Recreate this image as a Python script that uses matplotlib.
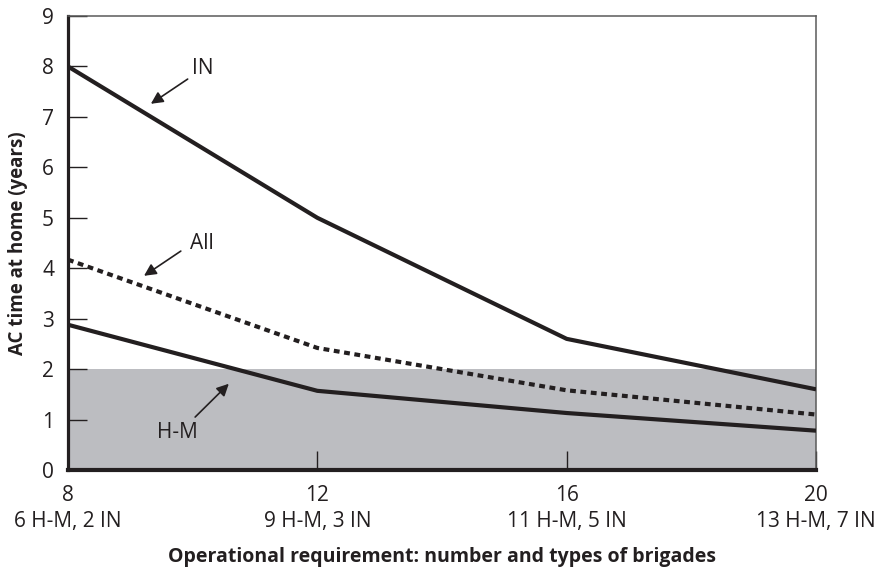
import matplotlib.pyplot as plt

plt.rcParams['font.family'] = ['Open Sans', 'DejaVu Sans']

brigades = [8, 12, 16, 20]
mix_labels = ["6 H-M, 2 IN", "9 H-M, 3 IN", "11 H-M, 5 IN", "13 H-M, 7 IN"]
in_years = [8.0, 5.0, 2.6, 1.6]
all_years = [4.17, 2.42, 1.58, 1.1]
hm_years = [2.88, 1.57, 1.13, 0.78]
target_years = 2

ink = '#231f20'

fig = plt.figure(figsize=(8.77, 5.70), dpi=100)
ax = fig.add_axes([0.0775, 0.1754, 0.853, 0.7965])

ax.axhspan(0, target_years, color='#bcbdc1', zorder=0, lw=0)
ax.plot(brigades, in_years, color=ink, lw=3, solid_capstyle='butt', zorder=3)
ax.plot(brigades, all_years, color=ink, lw=3, linestyle=(0, (1.4, 1.1)), zorder=3)
ax.plot(brigades, hm_years, color=ink, lw=3, solid_capstyle='butt', zorder=3)

ax.set_xlim(8, 20)
ax.set_ylim(0, 9)
ax.set_xticks(brigades)
ax.set_xticklabels([f"{b}\n{m}" for b, m in zip(brigades, mix_labels)],
                   linespacing=1.3)
ax.set_yticks(range(0, 10))
ax.tick_params(axis='x', direction='in', length=14, width=1, color=ink,
               labelsize=15, pad=11, labelcolor=ink)
ax.tick_params(axis='y', direction='in', length=14, width=1, color=ink,
               labelsize=15, pad=10, labelcolor=ink)

ax.spines['left'].set_linewidth(2.3)
ax.spines['left'].set_color(ink)
ax.spines['bottom'].set_linewidth(3)
ax.spines['bottom'].set_color(ink)
for s in ['top', 'right']:
    ax.spines[s].set_linewidth(1.1)
    ax.spines[s].set_color('#5a5a5a')

ax.set_xlabel("Operational requirement: number and types of brigades",
              fontsize=14, fontweight='bold', color=ink, labelpad=11)
ax.set_ylabel("AC time at home (years)", fontsize=13.5, fontweight='bold',
              color=ink, labelpad=10)

arrow = dict(arrowstyle='-|>', color=ink, lw=1.2, mutation_scale=18,
             shrinkA=0, shrinkB=0)
ax.text(10.17, 7.95, "IN", fontsize=15, color=ink, ha='center', va='center')
ax.annotate("", xy=(9.33, 7.26), xytext=(9.92, 7.75), arrowprops=arrow)
ax.text(10.15, 4.5, "All", fontsize=15, color=ink, ha='center', va='center')
ax.annotate("", xy=(9.22, 3.85), xytext=(9.81, 4.34), arrowprops=arrow)
ax.text(9.75, 0.75, "H-M", fontsize=15, color=ink, ha='center', va='center')
ax.annotate("", xy=(10.58, 1.71), xytext=(10.04, 1.05), arrowprops=arrow)

fig.savefig('out.png', dpi=100)
